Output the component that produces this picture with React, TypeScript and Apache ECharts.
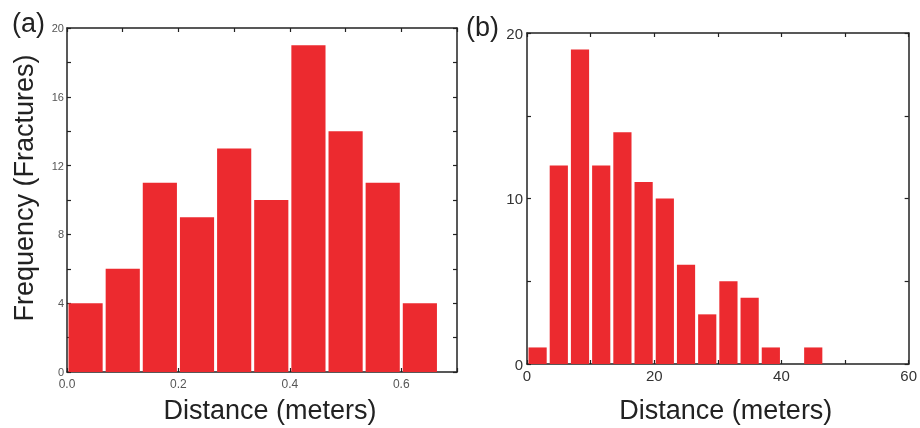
import React, { useEffect, useRef } from "react";
import * as echarts from "echarts";

// Panel (a)
const binStartsA = [0.0, 0.0667, 0.1333, 0.2, 0.2667, 0.3333, 0.4, 0.4667, 0.5333, 0.6];
const countsA = [4, 6, 11, 9, 13, 10, 19, 14, 11, 4];
const binWidthA = 0.0667;

// Panel (b)
const binStartsB = [0, 3.333, 6.667, 10, 13.333, 16.667, 20, 23.333, 26.667, 30, 33.333, 36.667, 40, 43.333];
const countsB = [1, 12, 19, 12, 14, 11, 10, 6, 3, 5, 4, 1, 0, 1];
const binWidthB = 3.333;

const BAR = "#EC2A2F";
const AXIS = "#222";
const FONT = "Liberation Sans, Arial, Helvetica, sans-serif";

function histData(starts: number[], counts: number[], w: number) {
  return starts.map((s, i) => [s, s + w, counts[i]]);
}

function renderBar(params: any, api: any) {
  const x0 = api.value(0);
  const x1 = api.value(1);
  const y = api.value(2);
  if (!y) return null;
  const p0 = api.coord([x0, y]);
  const p1 = api.coord([x1, 0]);
  return {
    type: "rect",
    shape: { x: p0[0] + 1.5, y: p0[1], width: p1[0] - p0[0] - 3, height: p1[1] - p0[1] },
    style: { fill: BAR },
  };
}

export default function App() {
  const ref = useRef<HTMLDivElement>(null);
  useEffect(() => {
    if (!ref.current) return;
    const chart = echarts.init(ref.current, undefined, { renderer: "svg" });
    const lineStyle = { color: AXIS, width: 1.5 };
    const axisLine = { show: true, onZero: false, lineStyle };
    const tickIn = { show: true, inside: true, length: 4, lineStyle: { color: AXIS, width: 1.2 } };
    const hidden = { show: false };
    chart.setOption({
      animation: false,
      textStyle: { fontFamily: FONT },
      grid: [
        { left: 67, top: 28, width: 390, height: 345, show: false },
        { left: 527, top: 33, width: 385, height: 333, show: false },
      ],
      xAxis: [
        {
          type: "value", gridIndex: 0, min: 0, max: 0.7, interval: 0.1, position: "bottom",
          axisLine, axisTick: tickIn, splitLine: hidden,
          axisLabel: {
            fontSize: 12, color: "#555", margin: 6, fontFamily: FONT,
            formatter: (v: number) => (Math.round(v * 10) % 2 === 0 && v < 0.65 ? v.toFixed(1) : ""),
          },
          name: "Distance (meters)", nameLocation: "middle", nameGap: 24,
          nameTextStyle: { fontSize: 27, color: "#222", fontFamily: FONT, padding: [0, 0, 0, 16] },
        },
        {
          type: "value", gridIndex: 0, min: 0, max: 0.7, interval: 0.1, position: "top",
          axisLine, axisTick: tickIn, splitLine: hidden, axisLabel: hidden,
        },
        {
          type: "value", gridIndex: 1, min: 0, max: 60, interval: 10, position: "bottom",
          axisLine, axisTick: tickIn, splitLine: hidden,
          axisLabel: {
            fontSize: 15, color: "#333", margin: 4, fontFamily: FONT,
            formatter: (v: number) => (v % 20 === 0 ? String(v) : ""),
          },
          name: "Distance (meters)", nameLocation: "middle", nameGap: 32,
          nameTextStyle: { fontSize: 27, color: "#222", fontFamily: FONT, padding: [0, 0, 0, 16] },
        },
        {
          type: "value", gridIndex: 1, min: 0, max: 60, interval: 10, position: "top",
          axisLine, axisTick: tickIn, splitLine: hidden, axisLabel: hidden,
        },
      ],
      yAxis: [
        {
          type: "value", gridIndex: 0, min: 0, max: 20, interval: 2, position: "left",
          axisLine, axisTick: tickIn, splitLine: hidden,
          axisLabel: {
            fontSize: 11, color: "#555", margin: 3, fontFamily: FONT,
            formatter: (v: number) => (v % 4 === 0 ? String(v) : ""),
          },
        },
        {
          type: "value", gridIndex: 0, min: 0, max: 20, interval: 2, position: "right",
          axisLine, axisTick: tickIn, splitLine: hidden, axisLabel: hidden,
        },
        {
          type: "value", gridIndex: 1, min: 0, max: 20, interval: 5, position: "left",
          axisLine, axisTick: tickIn, splitLine: hidden,
          axisLabel: {
            fontSize: 15, color: "#333", margin: 4, fontFamily: FONT,
            formatter: (v: number) => (v % 10 === 0 ? String(v) : ""),
          },
        },
        {
          type: "value", gridIndex: 1, min: 0, max: 20, interval: 5, position: "right",
          axisLine, axisTick: tickIn, splitLine: hidden, axisLabel: hidden,
        },
      ],
      graphic: [
        {
          type: "text", left: 12, top: 9,
          style: { text: "(a)", fontSize: 27, fill: "#222", fontFamily: FONT },
        },
        {
          type: "text", left: 466, top: 13,
          style: { text: "(b)", fontSize: 27, fill: "#222", fontFamily: FONT },
        },
        {
          type: "text", x: 24, y: 188, rotation: Math.PI / 2,
          style: {
            text: "Frequency (Fractures)", fontSize: 27, fill: "#222", fontFamily: FONT,
            align: "center", verticalAlign: "middle",
          },
        },
      ],
      series: [
        {
          type: "custom", xAxisIndex: 0, yAxisIndex: 0,
          data: histData(binStartsA, countsA, binWidthA),
          renderItem: renderBar, encode: { x: [0, 1], y: 2 },
        },
        {
          type: "custom", xAxisIndex: 2, yAxisIndex: 2,
          data: histData(binStartsB, countsB, binWidthB),
          renderItem: renderBar, encode: { x: [0, 1], y: 2 },
        },
      ],
    });
    return () => chart.dispose();
  }, []);
  return (
    <div
      ref={ref}
      style={{ position: "fixed", left: 0, top: 0, width: 920, height: 428 }}
    />
  );
}
